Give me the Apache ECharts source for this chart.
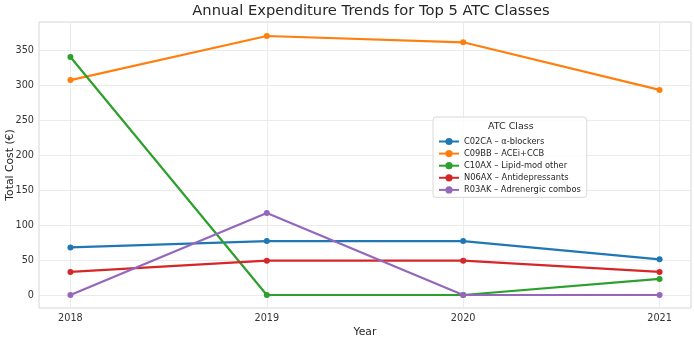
<!DOCTYPE html>
<html>
<head>
<meta charset="utf-8">
<script src="https://cdn.jsdelivr.net/npm/echarts@6/dist/echarts.min.js"></script>
<style>
  html, body { margin: 0; padding: 0; background: #fff; }
  #chart { width: 694px; height: 337px; }
</style>
</head>
<body>
<div id="chart"></div>
<script>
const years = [2018, 2019, 2020, 2021];
const yTicks = [0, 50, 100, 150, 200, 250, 300, 350];
const seriesNames = [
  'C02CA – α-blockers',
  'C09BB – ACEi+CCB',
  'C10AX – Lipid-mod other',
  'N06AX – Antidepressants',
  'R03AK – Adrenergic combos'
];
const c02ca = [68, 77, 77, 51];
const c09bb = [307, 370, 361, 293];
const c10ax = [340, 0, 0, 23];
const n06ax = [33, 49, 49, 33];
const r03ak = [0, 117, 0, 0];
const colors = ['#1f77b4', '#ff7f0e', '#2ca02c', '#d62728', '#9467bd'];

const chart = echarts.init(document.getElementById('chart'));
const font = 'DejaVu Sans';
const allValues = [c02ca, c09bb, c10ax, n06ax, r03ak];

const series = allValues.map((vals, i) => ({
  name: seriesNames[i],
  type: 'line',
  data: years.map((y, j) => [y, vals[j]]),
  symbol: 'circle',
  symbolSize: 6,
  lineStyle: { width: 2.2 },
  itemStyle: { color: colors[i] },
  z: 3 + i
}));

chart.setOption({
  animation: false,
  color: colors,
  textStyle: { fontFamily: font },
  title: {
    text: 'Annual Expenditure Trends for Top 5 ATC Classes',
    left: 366,
    textAlign: 'center',
    top: -1,
    textStyle: { fontFamily: font, fontSize: 14.7, fontWeight: 'normal', color: '#262626' }
  },
  grid: {
    left: 39, right: 3, top: 22, bottom: 29,
    containLabel: false,
    outerBoundsMode: 'none',
    show: true, borderColor: '#d6d6d6', borderWidth: 1
  },
  legend: {
    orient: 'vertical',
    left: 433,
    top: 117,
    padding: [20, 6, 3, 5],
    backgroundColor: 'rgba(255,255,255,0.85)',
    borderColor: '#d9d9d9',
    borderWidth: 1,
    borderRadius: 3,
    itemWidth: 20,
    itemHeight: 9,
    itemGap: 3.1,
    textStyle: { fontFamily: font, fontSize: 8.3, lineHeight: 9, color: '#262626' },
    data: seriesNames
  },
  graphic: [{
    type: 'text',
    left: 488,
    top: 122,
    style: { text: 'ATC Class', font: '9.5px "DejaVu Sans"', fill: '#262626' },
    z: 100
  }],
  xAxis: {
    type: 'value',
    min: 2017.84,
    max: 2021.16,
    name: 'Year',
    nameLocation: 'middle',
    nameGap: 19,
    nameMoveOverlap: false,
    nameTextStyle: { fontFamily: font, fontSize: 10.8, color: '#262626' },
    axisLine: { show: false },
    axisTick: { show: false, customValues: years },
    axisLabel: {
      customValues: years,
      fontFamily: font, fontSize: 9.7, color: '#333', margin: 5,
      formatter: v => String(v)
    },
    splitLine: { show: true, lineStyle: { color: '#ebebeb', width: 1 } }
  },
  yAxis: {
    type: 'value',
    min: -18.6,
    max: 390,
    name: 'Total Cost (€)',
    nameLocation: 'middle',
    nameGap: 23,
    nameMoveOverlap: false,
    nameTextStyle: { fontFamily: font, fontSize: 10.8, color: '#262626' },
    axisLine: { show: false },
    axisTick: { show: false, customValues: yTicks },
    axisLabel: {
      customValues: yTicks,
      fontFamily: font, fontSize: 9.7, color: '#333', margin: 5
    },
    splitLine: { show: true, lineStyle: { color: '#ebebeb', width: 1 } }
  },
  series: series
});
</script>
</body>
</html>
